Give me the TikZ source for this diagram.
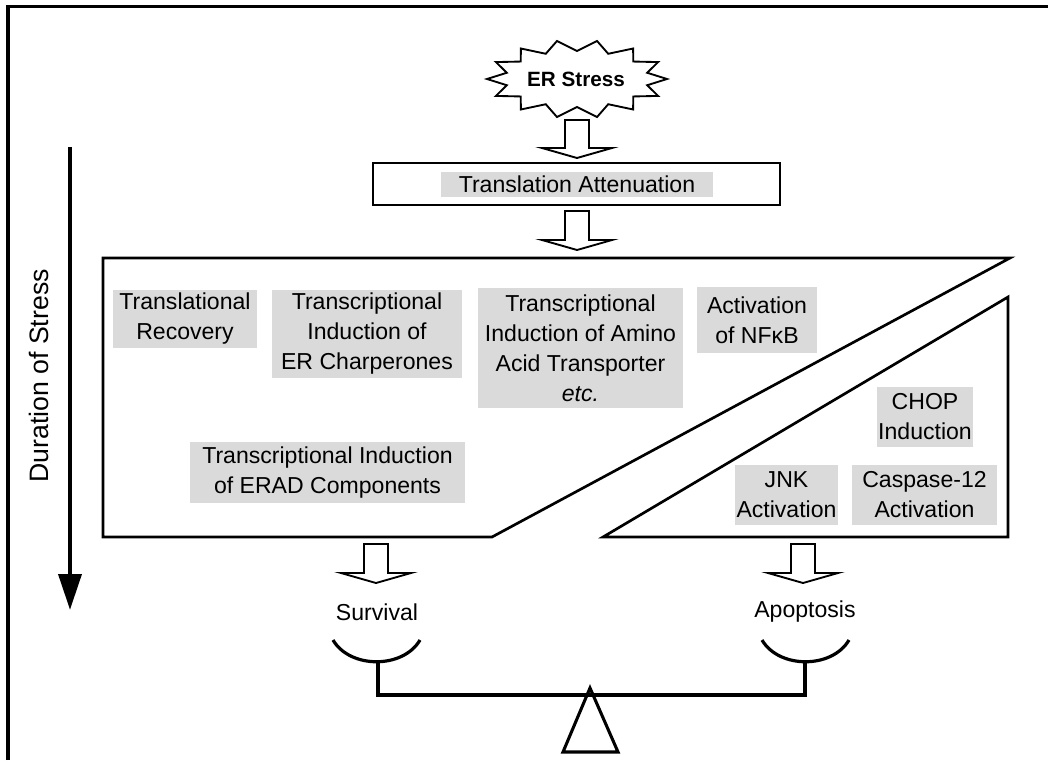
\documentclass[tikz,border=0pt]{standalone}
\usepackage{fontspec}
\setmainfont{Liberation Sans}
\usetikzlibrary{calc,fit,arrows.meta}
\definecolor{boxgray}{RGB}{218,218,218}
\newcommand\txtfont{\fontsize{17.3}{22.5}\selectfont}
\newcommand\hollowarrow[2]{%
  \draw[harrow] ($(#1)+(-12,0)$) -- ($(#2)+(-12,-10)$) -- ($(#2)+(-35,-10)$) -- (#2)
    -- ($(#2)+(35,-10)$) -- ($(#2)+(12,-10)$) -- ($(#1)+(12,0)$) -- cycle;}
\newcommand\graybox[4]{%
  \node[gboxbg, fit={#2 #3}] (#1) {};
  \node[plain] (#1t) at (#1.center) {#4};}
\tikzset{
  frameline/.style={line width=2.3pt},
  boxline/.style={line width=2pt, line join=miter},
  harrow/.style={line width=1.4pt, fill=white, line join=miter},
  gboxbg/.style={fill=boxgray, inner sep=0pt},
  plain/.style={align=center, inner sep=0pt, font=\txtfont},
  panline/.style={line width=2.4pt},
  beamline/.style={line width=3pt, line join=miter},
}
\begin{document}
\begin{tikzpicture}[x=0.75pt,y=-0.75pt]
\useasboundingbox (0,0) rectangle (1048,760);
% frame
\draw[frameline] (8,760) -- (8,6.5) -- (1048,6.5);
% starburst
\draw[line width=1.4pt, line join=miter, fill=white] (667,79)
  \foreach \i in {0,...,13} {
    -- ({577+72*cos((\i+0.5)*360/14)},{79+28*sin((\i+0.5)*360/14)})
    -- ({577+90*cos((\i+1)*360/14)},{79+39*sin((\i+1)*360/14)})
  } -- cycle;
\node[font=\bfseries\fontsize{15.5}{18}\selectfont, inner sep=0pt] (star) at (576,79) {ER Stress};
% arrow 1
\coordinate (a1s) at (577,120);
\coordinate (a1e) at (577,158);
\hollowarrow{a1s}{a1e}
% translation attenuation
\node[draw, line width=1.8pt, fit={(373,163) (780,205)}, inner sep=0pt] (tabox) {};
\graybox{ta}{(441,172)}{(713,197)}{Translation Attenuation}
% arrow 2
\coordinate (a2s) at (577,211);
\coordinate (a2e) at (577,250);
\hollowarrow{a2s}{a2e}
% survival region
\coordinate (s1) at (103,258);
\coordinate (s2) at (1010,258);
\coordinate (s3) at (492,537);
\coordinate (s4) at (103,537);
\draw[boxline] (s1) -- (s2) -- (s3) -- (s4) -- cycle;
% apoptosis region
\coordinate (p1) at (1008,297);
\coordinate (p2) at (1008,537);
\coordinate (p3) at (603,537);
\draw[boxline] (p1) -- (p2) -- (p3) -- cycle;
% gray text boxes
\graybox{tr}{(113,290)}{(257,348)}{Translational\\Recovery}
\graybox{tier}{(272,290)}{(462,378)}{Transcriptional\\Induction of\\ER Charperones}
\graybox{tiaa}{(478,288)}{(683,408)}{Transcriptional\\Induction of Amino\\Acid Transporter\\\textit{etc.}}
\graybox{nfkb}{(697,287)}{(817,353)}{Activation\\of NFκB}
\graybox{erad}{(190,442)}{(465,503)}{Transcriptional Induction\\of ERAD Components}
\graybox{chop}{(877,387)}{(973,447)}{CHOP\\Induction}
\graybox{jnk}{(735,465)}{(838,525)}{JNK\\Activation}
\graybox{casp}{(852,465)}{(997,525)}{Caspase-12\\Activation}
% outcome arrows
\coordinate (b1s) at (376,544);
\coordinate (b1e) at (376,583);
\hollowarrow{b1s}{b1e}
\coordinate (b2s) at (803,544);
\coordinate (b2e) at (803,583);
\hollowarrow{b2s}{b2e}
\node[plain] (surv) at (377,612) {Survival};
\node[plain] (apop) at (805,612) {Apoptosis};
% balance
\draw[panline] (333,640) .. controls (350,669) and (403,669) .. (420,640);
\draw[panline] (762,640) .. controls (779,669) and (832,669) .. (849,640);
\coordinate (lp) at (378,662);
\coordinate (rp) at (805,662);
\draw[beamline] (lp) -- (378,695) -- (805,695) -- (rp);
\draw[line width=2.3pt, line join=miter] (590,688) -- (618,752) -- (563,752) -- cycle;
% duration
\coordinate (d1) at (70,147);
\coordinate (d2) at (70,610);
\draw[line width=3.5pt, -{Triangle[length=27pt,width=17pt]}] (d1) -- (d2);
\node[rotate=90, inner sep=0pt, font=\fontsize{20}{22}\selectfont] (dur) at (39,376) {Duration of Stress};
\end{tikzpicture}
\end{document}
